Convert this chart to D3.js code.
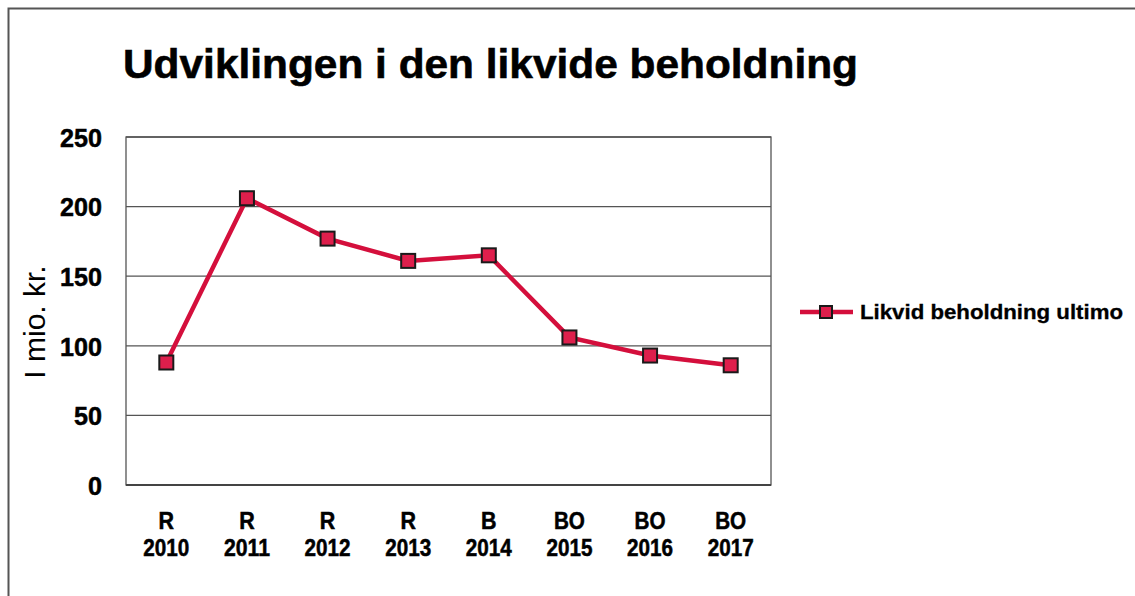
<!DOCTYPE html>
<html><head><meta charset="utf-8">
<script src="https://cdn.jsdelivr.net/npm/d3@7"></script>
<style>body{margin:0;background:#fff}svg{display:block}text{font-family:"Liberation Sans",Arial,sans-serif}</style>
</head><body>
<script>
const categoriesTop = ["R","R","R","R","B","BO","BO","BO"];
const categoriesYear = ["2010","2011","2012","2013","2014","2015","2016","2017"];
const values = [88, 206, 177, 161, 165, 106, 93, 86];
const yTicks = [0, 50, 100, 150, 200, 250];
const seriesName = "Likvid beholdning ultimo";
const titleText = "Udviklingen i den likvide beholdning";
const yLabel = "I mio. kr.";

const W = 1135, H = 596;
const svg = d3.select("body").append("svg").attr("width", W).attr("height", H);
const m = {l:126, t:137, r:771, b:485};
const x = d3.scaleBand().domain(categoriesYear).range([m.l, m.r]);
const y = d3.scaleLinear().domain([0,250]).range([m.b, m.t]);

// outer frame
svg.append("path").attr("d", `M8.5,${H} V8.5 H${W}`).attr("fill","none").attr("stroke","#555").attr("stroke-width",2);

// title
svg.append("text").attr("x",123).attr("y",78).attr("font-size",41).attr("font-weight","bold")
  .attr("stroke","#000").attr("stroke-width",0.6)
  .attr("textLength",735).attr("lengthAdjust","spacingAndGlyphs").text(titleText);

// grid
svg.append("g").selectAll("line").data(yTicks.filter(d=>d>0)).join("line")
  .attr("x1",m.l).attr("x2",m.r).attr("y1",d=>y(d)).attr("y2",d=>y(d))
  .attr("stroke","#555").attr("stroke-width",1.3);
// plot border
svg.append("rect").attr("x",m.l).attr("y",m.t).attr("width",m.r-m.l).attr("height",m.b-m.t)
  .attr("fill","none").attr("stroke","#555").attr("stroke-width",1.3);
svg.append("line").attr("x1",m.l).attr("x2",m.r).attr("y1",m.b).attr("y2",m.b).attr("stroke","#444").attr("stroke-width",2);

// y label (drawn first so tick labels sit over it, as in the reference)
svg.append("text").attr("transform","translate(45,322) rotate(-90)").attr("text-anchor","middle")
  .attr("font-size",30).text(yLabel);

// y axis labels
const yAxis = d3.axisLeft(y).tickValues(yTicks).tickSize(0).tickPadding(24);
const gy = svg.append("g").attr("transform",`translate(${m.l},0)`).call(yAxis);
gy.select(".domain").remove();
gy.selectAll("text").attr("font-size",26).attr("font-weight","bold").attr("fill","#000")
  .attr("stroke","#000").attr("stroke-width",0.5)
  .attr("font-family","'Liberation Sans',Arial,sans-serif").attr("dy","0.36em")
  .attr("textLength",function(){return this.textContent.length*14;}).attr("lengthAdjust","spacingAndGlyphs");

// x axis labels (two lines in one text)
const gx = svg.append("g");
categoriesYear.forEach((c,i)=>{
  const cx = x(c)+x.bandwidth()/2;
  const t = gx.append("text").attr("text-anchor","middle").attr("font-size",23).attr("font-weight","bold")
    .attr("stroke","#000").attr("stroke-width",0.5);
  t.append("tspan").attr("x",cx).attr("y",529)
    .attr("textLength",categoriesTop[i].length*15.5).attr("lengthAdjust","spacingAndGlyphs").text(categoriesTop[i]);
  t.append("tspan").attr("x",cx).attr("y",556)
    .attr("textLength",46).attr("lengthAdjust","spacingAndGlyphs").text(c);
});

// line
const line = d3.line().x((d,i)=>x(categoriesYear[i])+x.bandwidth()/2).y(d=>y(d));
svg.append("path").datum(values).attr("d",line).attr("fill","none").attr("stroke","#d40f3c").attr("stroke-width",4.5);
svg.append("g").selectAll("rect").data(values).join("rect")
  .attr("x",(d,i)=>x(categoriesYear[i])+x.bandwidth()/2-7).attr("y",d=>y(d)-7)
  .attr("width",14).attr("height",14).attr("fill","#de1f4c").attr("stroke","#1a1a1a").attr("stroke-width",2);

// legend
const lg = svg.append("g");
lg.append("line").attr("x1",800).attr("x2",853).attr("y1",312).attr("y2",312).attr("stroke","#d40f3c").attr("stroke-width",4.5);
lg.append("rect").attr("x",820).attr("y",306).attr("width",12).attr("height",12).attr("fill","#de1f4c").attr("stroke","#1a1a1a").attr("stroke-width",2);
lg.append("text").attr("x",860).attr("y",319).attr("font-size",20).attr("font-weight","bold")
  .attr("stroke","#000").attr("stroke-width",0.3)
  .attr("textLength",263).attr("lengthAdjust","spacingAndGlyphs").text(seriesName);
</script>
</body></html>
